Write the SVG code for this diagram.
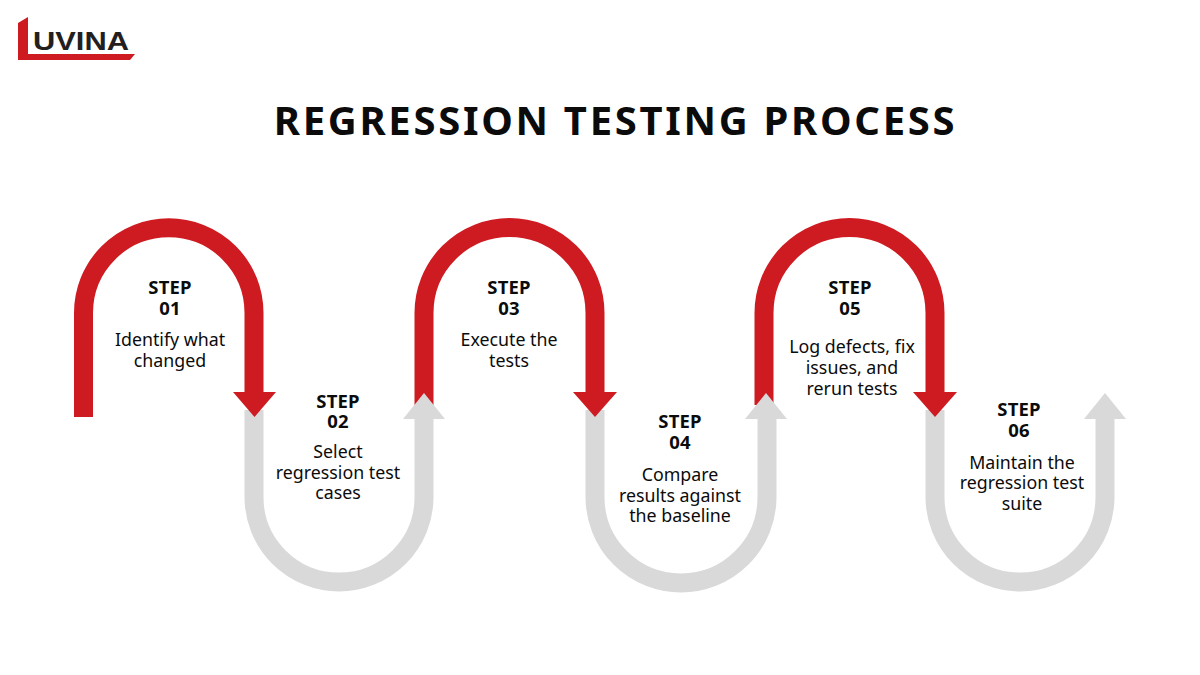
<svg xmlns="http://www.w3.org/2000/svg" width="1200" height="675" viewBox="0 0 1200 675">
<style>
text{font-family:"Noto Sans","Open Sans","Liberation Sans",sans-serif;text-anchor:middle;fill:#0b0b0b}
.s{font-size:18.5px;font-weight:700;letter-spacing:.2px}
.d{font-size:17.8px}
.r{stroke:#ce1a21;fill:none;stroke-width:19}
.g{stroke:#d9d9d9;fill:none;stroke-width:19}
.rh{fill:#ce1a21}
.gh{fill:#d9d9d9}
</style>
<rect width="1200" height="675" fill="#fff"/>
<g id="logo">
<polygon points="18,23 28,17 28,54 135,54 130,60 18,60" fill="#ce1a21"/>
<text x="33" y="50" textLength="96" lengthAdjust="spacingAndGlyphs" style="text-anchor:start;font-size:26.500px;font-weight:700;fill:#231f20;font-family:'Liberation Sans',sans-serif">UVINA</text>
</g>
<text id="title" x="615.500" y="135" style="font-size:40px;font-weight:700;letter-spacing:2.7px">REGRESSION TESTING PROCESS</text>
<g id="connectors">
<path class="g" d="M254 410V497A85 85 0 0 0 424 497V415"/>
<path class="g" d="M595 410V497A86 86 0 0 0 767 497V415"/>
<path class="g" d="M935 410V497A85 85 0 0 0 1105 497V415"/>
<path class="gh" d="M1105 393L1126 419H1084Z"/>
<path class="r" d="M83.500 417V313A85.250 85.250 0 0 1 254 313V395"/>
<path class="rh" d="M233 392H276L254.500 417Z"/>
<path class="r" d="M424 405V313A85.500 85.500 0 0 1 595 313V395"/>
<path class="rh" d="M573 392H617L595 417Z"/>
<path class="r" d="M764 405V313A85.500 85.500 0 0 1 935 313V395"/>
<path class="rh" d="M913 392H957L935 417Z"/>
<path class="gh" d="M424 393L445 419H403Z"/>
<path class="gh" d="M766 393L787 419H745Z"/>
</g>
<g id="step1"><text class="s" x="170" y="294">STEP</text><text class="s" x="170" y="315">01</text><text class="d" x="170" y="345.500">Identify what</text><text class="d" x="170" y="366.500">changed</text></g>
<g id="step2"><text class="s" x="338" y="408">STEP</text><text class="s" x="338" y="428">02</text><text class="d" x="338" y="457.500">Select</text><text class="d" x="338" y="478.500">regression test</text><text class="d" x="338" y="498.500">cases</text></g>
<g id="step3"><text class="s" x="509" y="294">STEP</text><text class="s" x="509" y="315">03</text><text class="d" x="509" y="345.500">Execute the</text><text class="d" x="509" y="366.500">tests</text></g>
<g id="step4"><text class="s" x="680" y="428">STEP</text><text class="s" x="680" y="449">04</text><text class="d" x="680" y="480.500">Compare</text><text class="d" x="680" y="501.500">results against</text><text class="d" x="680" y="521.500">the baseline</text></g>
<g id="step5"><text class="s" x="850" y="294">STEP</text><text class="s" x="850" y="315">05</text><text class="d" x="852" y="352.500">Log defects, fix</text><text class="d" x="852" y="373.500">issues, and</text><text class="d" x="852" y="394.500">rerun tests</text></g>
<g id="step6"><text class="s" x="1019" y="416">STEP</text><text class="s" x="1019" y="437">06</text><text class="d" x="1022" y="468.500">Maintain the</text><text class="d" x="1022" y="488.500">regression test</text><text class="d" x="1022" y="509.500">suite</text></g>
</svg>
